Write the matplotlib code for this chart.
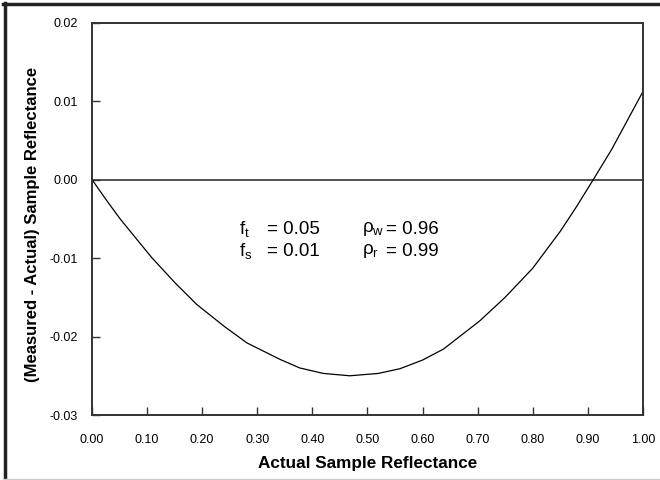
import numpy as np
import matplotlib
matplotlib.use("Agg")
import matplotlib.pyplot as plt
from matplotlib.lines import Line2D

# values
reflectance = [0.0, 0.025, 0.051, 0.108, 0.15, 0.19, 0.24, 0.281, 0.341,
               0.377, 0.42, 0.468, 0.52, 0.559, 0.60, 0.638, 0.704, 0.75,
               0.80, 0.85, 0.88, 0.91, 0.943, 0.97, 1.0]
error = [0.0, -0.0025, -0.0050, -0.0099, -0.0131, -0.0159, -0.0187, -0.0208,
         -0.0229, -0.0240, -0.0247, -0.0250, -0.0247, -0.0241, -0.0230,
         -0.0216, -0.0180, -0.0150, -0.0113, -0.0066, -0.0034, 0.0, 0.0038,
         0.0073, 0.0112]

xticks = np.arange(0, 1.01, 0.1)
yticks = [-0.03, -0.02, -0.01, 0.0, 0.01, 0.02]

plt.rcParams['font.family'] = ['Liberation Sans', 'DejaVu Sans']
plt.rcParams['mathtext.fontset'] = 'custom'
plt.rcParams['mathtext.rm'] = 'Liberation Sans'
plt.rcParams['mathtext.it'] = 'Liberation Sans'

fig = plt.figure(figsize=(6.6, 4.8), dpi=100)
ax = fig.add_axes([0.1394, 0.1354, 0.8346, 0.8173])

ax.axhline(0, color='#333333', lw=1.2)
ax.plot(reflectance, error, color='black', lw=0.9)

ax.set_xlim(0, 1)
ax.set_ylim(-0.03, 0.02)
ax.set_xticks(xticks)
ax.set_xticklabels(['%.2f' % v for v in xticks])
ax.set_yticks(yticks)
ax.set_yticklabels(['%.2f' % v for v in yticks])
ax.tick_params(direction='in', length=6, width=1, labelsize=9, color='#333333',
               top=False, right=False)
ax.tick_params(axis='x', pad=14)
ax.tick_params(axis='y', pad=10)
for s in ax.spines.values():
    s.set_linewidth(1.4)
    s.set_color('#333333')

ax.set_xlabel('Actual Sample Reflectance', fontsize=12.3, fontweight='bold',
              labelpad=7)
ax.set_ylabel('(Measured - Actual) Sample Reflectance', fontsize=12,
              fontweight='bold')
ax.yaxis.set_label_coords(-0.095, 0.485)

fs = 13.5
ax.text(0.267, -0.0063, r'$\mathregular{f_t}$', fontsize=fs, va='center')
ax.text(0.267, -0.0091, r'$\mathregular{f_s}$', fontsize=fs, va='center')
ax.text(0.318, -0.0063, '= 0.05', fontsize=fs, va='center')
ax.text(0.318, -0.0091, '= 0.01', fontsize=fs, va='center')
ax.text(0.49, -0.0063, r'$\mathregular{\rho_w}$', fontsize=fs, va='center')
ax.text(0.49, -0.0091, r'$\mathregular{\rho_r}$', fontsize=fs, va='center')
ax.text(0.533, -0.0063, '= 0.96', fontsize=fs, va='center')
ax.text(0.533, -0.0091, '= 0.99', fontsize=fs, va='center')

# frame around the whole picture
fig.add_artist(Line2D([0.007, 0.007], [0.0, 0.994], transform=fig.transFigure,
                      color='#222222', lw=2.5))
fig.add_artist(Line2D([0.005, 1.0], [0.992, 0.992], transform=fig.transFigure,
                      color='#222222', lw=2.5))
fig.add_artist(Line2D([0.005, 1.0], [0.003, 0.003], transform=fig.transFigure,
                      color='#cccccc', lw=1))

fig.savefig('out.png', dpi=100)
